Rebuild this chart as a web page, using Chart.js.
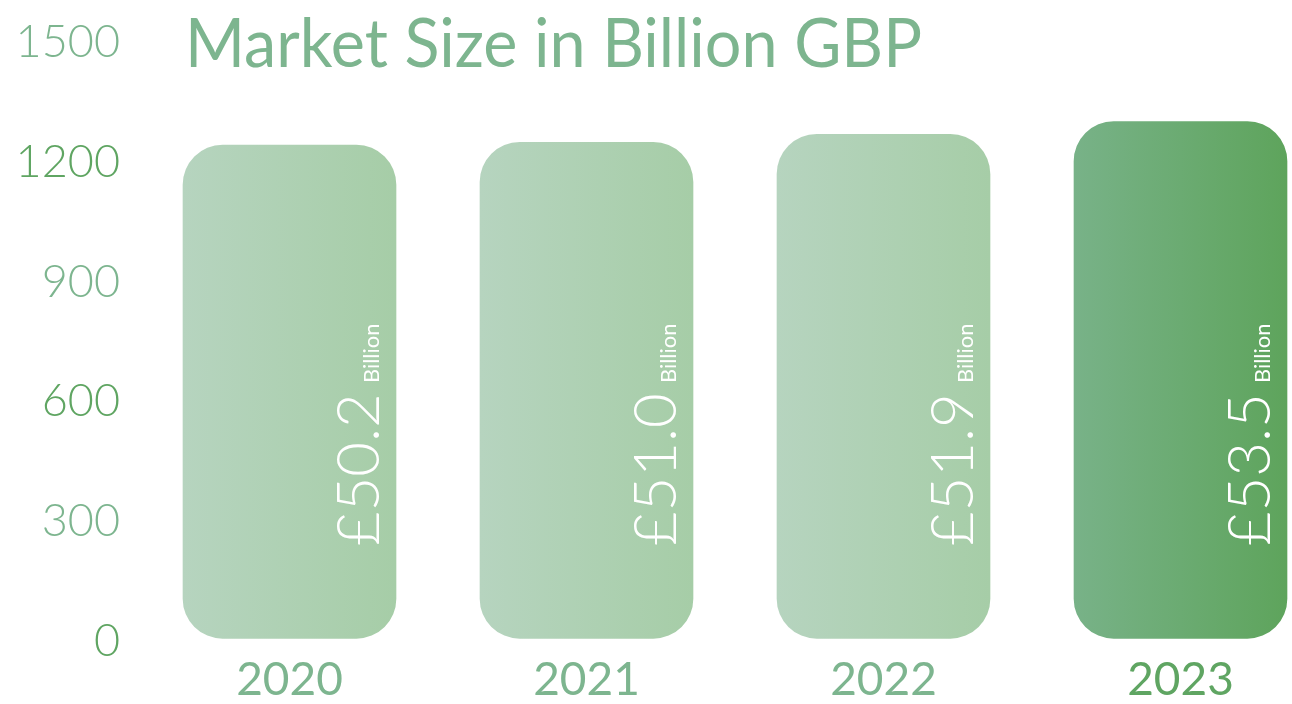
<!DOCTYPE html>
<html>
<head>
<meta charset="utf-8">
<script src="https://cdn.jsdelivr.net/npm/chart.js@4.4.1/dist/chart.umd.min.js"></script>
<style>
  html, body { margin: 0; padding: 0; background: #ffffff; overflow: hidden; width: 1292px; height: 704px; }
  #wrap { position: absolute; left: 0; top: 0; width: 1340px; height: 704px; }
</style>
</head>
<body>
<div id="wrap"><canvas id="c" width="1340" height="704"></canvas></div>
<script>
// ---- data ----
const categories = ['2020', '2021', '2022', '2023'];
const marketValues = [1243, 1250, 1270, 1302];
const valueLabels = ['£50.2', '£51.0', '£51.9', '£53.5'];
const unitLabel = 'Billion';
const yTicks = [0, 300, 600, 900, 1200, 1500];
const chartTitle = 'Market Size in Billion GBP';

// ---- styles ----
const LIGHT_TXT = '#7db58f';
const DARK_TXT = '#5fa562';
const lightStops = ['#b6d4bf', '#a6cda7'];
const darkStops = ['#78b288', '#5ea45c'];
const highlightIndex = 3;
const BAR_W = 213;

function barFill(ctx) {
  const chart = ctx.chart;
  const xs = chart.scales.x;
  if (!chart.chartArea || !xs) return lightStops[1];
  const cx = xs.getPixelForValue(ctx.dataIndex);
  const g = chart.ctx.createLinearGradient(cx - BAR_W / 2, 0, cx + BAR_W / 2, 0);
  const stops = ctx.dataIndex === highlightIndex ? darkStops : lightStops;
  g.addColorStop(0, stops[0]);
  g.addColorStop(1, stops[1]);
  return g;
}

const titlePlugin = {
  id: 'customTitle',
  afterDraw(chart) {
    const c = chart.ctx;
    c.save();
    c.font = '400 68px Lato';
    c.fillStyle = LIGHT_TXT;
    c.textBaseline = 'alphabetic';
    c.textAlign = 'left';
    const w = c.measureText(chartTitle).width;
    const sx = 737 / w;
    c.translate(185, 67);
    c.scale(sx, 1);
    c.fillText(chartTitle, 0, 0);
    c.restore();
  }
};

const valueLabelPlugin = {
  id: 'valueLabels',
  afterDatasetsDraw(chart) {
    const c = chart.ctx;
    const meta = chart.getDatasetMeta(0);
    meta.data.forEach((el, i) => {
      c.save();
      c.translate(el.x + 89, el.base - 92);
      c.rotate(-Math.PI / 2);
      c.fillStyle = '#ffffff';
      c.textBaseline = 'alphabetic';
      c.textAlign = 'left';
      c.font = '300 60px Lato';
      c.fillText(valueLabels[i], 0, 0);
      const w = c.measureText(valueLabels[i]).width;
      c.font = '400 22px Lato';
      c.fillText(unitLabel, w + 10, 0);
      c.restore();
    });
  }
};

new Chart(document.getElementById('c'), {
  type: 'bar',
  data: {
    labels: categories,
    datasets: [{
      data: marketValues,
      backgroundColor: barFill,
      borderWidth: 0,
      borderRadius: 40,
      borderSkipped: false,
      barThickness: BAR_W,
      base: 8
    }]
  },
  options: {
    responsive: false,
    animation: false,
    events: [],
    layout: { padding: { top: 42.5, right: 11, bottom: 2, left: 0 } },
    plugins: { legend: { display: false }, tooltip: { enabled: false }, title: { display: false } },
    scales: {
      x: {
        offset: true,
        afterFit: (scale) => { scale.height = 60.5; },
        grid: { display: false, drawTicks: false },
        border: { display: false },
        ticks: {
          padding: 11,
          font: { family: 'Lato', size: 46, weight: '400' },
          color: (ctx) => ctx.index === highlightIndex ? DARK_TXT : LIGHT_TXT
        }
      },
      y: {
        min: yTicks[0],
        max: yTicks[yTicks.length - 1],
        afterBuildTicks: (scale) => { scale.ticks = yTicks.map(v => ({ value: v })); },
        afterFit: (scale) => { scale.width = 141; scale.paddingTop = 0; scale.paddingBottom = 0; },
        grid: { display: false, drawTicks: false },
        border: { display: false },
        ticks: {
          padding: 21,
          callback: (v) => String(v),
          font: { family: 'Lato', size: 45, weight: '300' },
          color: (ctx) => ctx.index % 2 === 0 ? DARK_TXT : LIGHT_TXT
        }
      }
    }
  },
  plugins: [titlePlugin, valueLabelPlugin]
});
</script>
</body>
</html>
